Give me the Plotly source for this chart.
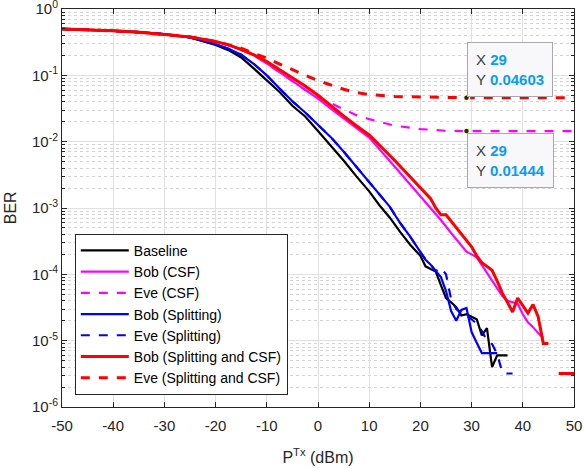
import numpy as np
import plotly.graph_objects as go

# transmit power axis (dBm), shared head of every curve
x_head = [-50, -45, -40, -35, -30, -25, -20, -17.5, -15, -12.5, -10, -7.5, -5, -2.5,
          0, 2.5, 5, 7.5, 10]

# Baseline
base_x = x_head + [12, 14, 16, 18, 20, 21, 22, 23, 24, 25, 26, 27, 28, 29, 30,
                   31, 32, 33, 34, 35, 36, 37]
base_ber = [0.501, 0.490, 0.468, 0.447, 0.417, 0.372, 0.288, 0.240, 0.186, 0.126,
            0.0851, 0.0562, 0.0347, 0.024, 0.0145, 0.0087, 0.0052, 0.003, 0.00178,
            0.0011, 7.2e-4, 4.4e-4, 2.8e-4, 1.9e-4, 1.32e-4, 1.2e-4, 1.1e-4, 6.9e-5,
            4.4e-5, 3.8e-5, 3.2e-5, 2.4e-5, 2.5e-5, 2.3e-5, 2.1e-5, 1.2e-5, 1.55e-5,
            4.0e-6, 6.0e-6, 6.0e-6, 6.0e-6]

# Bob (CSF)
bob_csf_x = x_head + [15, 20, 22, 24, 26, 28, 29, 30, 31, 32, 33, 34, 35, 36, 37,
                      38, 39, 40, 41, 42, 43, 44]
bob_csf_ber = [0.501, 0.490, 0.468, 0.447, 0.417, 0.380, 0.324, 0.288, 0.245, 0.200,
               0.151, 0.112, 0.0813, 0.0603, 0.0447, 0.0316, 0.0224, 0.0158, 0.0115,
               0.0042, 0.00151, 0.001, 6.6e-4, 4.2e-4, 2.8e-4, 2.2e-4, 2.0e-4, 1.8e-4,
               1.38e-4, 1.05e-4, 7.9e-5, 6.0e-5, 4.7e-5, 4.0e-5, 3.8e-5, 3.6e-5, 2.5e-5,
               1.9e-5, 1.6e-5, 1.3e-5, 1.1e-5]

# Eve (CSF)
eve_csf_x = x_head + [15, 20, 25, 29, 35, 40, 45, 50]
eve_csf_ber = [0.501, 0.490, 0.468, 0.447, 0.417, 0.380, 0.324, 0.288, 0.245, 0.200,
               0.151, 0.112, 0.0813, 0.0603, 0.0468, 0.038, 0.0309, 0.0251, 0.0219,
               0.0174, 0.0155, 0.0146, 0.01444, 0.01444, 0.01444, 0.01444, 0.01444]

# Bob (Splitting)
bob_spl_x = x_head + [12, 14, 15, 16, 18, 20, 21, 22, 23, 24, 25, 26, 27, 28, 29,
                      30, 31, 32, 33, 34, 35]
bob_spl_ber = [0.501, 0.490, 0.468, 0.447, 0.417, 0.372, 0.295, 0.251, 0.204, 0.148,
               0.1, 0.0631, 0.0407, 0.0275, 0.0182, 0.0117, 0.0071, 0.0042, 0.0025,
               0.00158, 0.00105, 7.9e-4, 6.0e-4, 3.7e-4, 2.2e-4, 1.66e-4, 1.4e-4,
               1.12e-4, 9.1e-5, 5.6e-5, 2.8e-5, 2.0e-5, 2.9e-5, 3.1e-5, 1.35e-5, 9.3e-6,
               6.5e-6, 6.5e-6, 6.5e-6, 6.5e-6]

# Eve (Splitting)
eve_spl_x = x_head + [12, 14, 15, 16, 18, 20, 21, 22, 23, 24, 25, 26, 27, 28, 29,
                      30, 31, 32, 33, 34, 35, 36, 37, 38]
eve_spl_ber = [0.501, 0.490, 0.468, 0.447, 0.417, 0.372, 0.295, 0.251, 0.204, 0.148,
               0.1, 0.0631, 0.0407, 0.0275, 0.0182, 0.0117, 0.0071, 0.0042, 0.0025,
               0.00158, 0.00105, 7.9e-4, 6.0e-4, 3.7e-4, 2.2e-4, 1.66e-4, 1.4e-4,
               1.12e-4, 1.26e-4, 1.0e-4, 4.2e-5, 3.0e-5, 2.6e-5, 2.4e-5, 2.1e-5, 1.8e-5,
               1.4e-5, 1.0e-5, 8.9e-6, 6.3e-6, 3.3e-6, 3.2e-6, 3.2e-6]

# Bob (Splitting and CSF)
bob_both_x = x_head + [15, 20, 22, 23, 24, 25, 26, 27, 28, 29, 30, 31, 32, 33, 34,
                       35, 36, 37, 38, 39, 40, 41, 42, 43, 44, 45, 46, 47, 48, 49, 50]
bob_both_ber = [0.501, 0.490, 0.468, 0.447, 0.417, 0.380, 0.324, 0.288, 0.245, 0.204,
                0.162, 0.123, 0.0912, 0.0692, 0.0501, 0.0347, 0.0245, 0.0174, 0.0126,
                0.0052, 0.002, 0.00138, 0.001, 7.9e-4, 7.9e-4, 6.3e-4, 5.2e-4, 4.0e-4,
                3.3e-4, 2.6e-4, 1.9e-4, 1.5e-4, 1.32e-4, 1.15e-4, 7.9e-5, 5.2e-5, 3.8e-5,
                2.7e-5, 4.4e-5, 3.3e-5, 2.6e-5, 3.5e-5, 2.3e-5, 9.1e-6, 9.1e-6, None,
                3.2e-6, 3.2e-6, 3.2e-6, 3.2e-6]

# Eve (Splitting and CSF)
eve_both_x = x_head + [15, 20, 25, 29, 35, 40, 45, 50]
eve_both_ber = [0.501, 0.490, 0.468, 0.447, 0.417, 0.380, 0.324, 0.288, 0.257, 0.214,
                0.182, 0.148, 0.120, 0.1, 0.0832, 0.0708, 0.0617, 0.055, 0.0513,
                0.0479, 0.0468, 0.0462, 0.04603, 0.04603, 0.04603, 0.04603, 0.04603]

# data tips
tip_x = [29, 29]
tip_y = [0.04603, 0.01444]
tip_text = ["0.04603", "0.01444"]

# ticks
x_tickvals = [-50, -40, -30, -20, -10, 0, 10, 20, 30, 40, 50]
x_ticktext = ["-50", "-40", "-30", "-20", "-10", "0", "10", "20", "30", "40", "50"]
y_tickvals = [1e-6, 1e-5, 1e-4, 1e-3, 1e-2, 1e-1, 1]
y_ticktext = ["10<sup>-6</sup>", "10<sup>-5</sup>", "10<sup>-4</sup>", "10<sup>-3</sup>",
              "10<sup>-2</sup>", "10<sup>-1</sup>", "10<sup>0</sup>"]

series = [
    ("Baseline", base_x, base_ber, "black", "solid", 2.2),
    ("Bob (CSF)", bob_csf_x, bob_csf_ber, "#ff00ff", "solid", 2.2),
    ("Eve (CSF)", eve_csf_x, eve_csf_ber, "#ff00ff", "dash", 2.2),
    ("Bob (Splitting)", bob_spl_x, bob_spl_ber, "#0000ff", "solid", 2.2),
    ("Eve (Splitting)", eve_spl_x, eve_spl_ber, "#0000ff", "dash", 2.2),
    ("Bob (Splitting and CSF)", bob_both_x, bob_both_ber, "#ff0000", "solid", 3),
    ("Eve (Splitting and CSF)", eve_both_x, eve_both_ber, "#ff0000", "dash", 3),
]

fig = go.Figure()
for name, xs, ys, color, dash, width in series:
    fig.add_trace(go.Scatter(
        x=xs, y=ys, name=name, mode="lines",
        line=dict(color=color, dash=dash, width=width),
        connectgaps=False,
    ))

fig.add_trace(go.Scatter(
    x=tip_x, y=tip_y, mode="markers", showlegend=False,
    marker=dict(color="#262626", size=6, line=dict(color="#ffffc0", width=1.5)),
))

for tx, ty, tt, anchor in zip(tip_x, tip_y, tip_text, ["bottom", "top"]):
    fig.add_annotation(
        x=tx, y=np.log10(ty), xref="x", yref="y",
        xanchor="left", yanchor=anchor, showarrow=False,
        xshift=1, yshift=1 if anchor == "bottom" else -2,
        align="left",
        text=(f"X <span style='color:#0a9bf5'><b>{tx}</b></span><br>"
              f"Y <span style='color:#0a9bf5'><b>{tt}</b></span>"),
        font=dict(size=15, color="#404040"),
        bgcolor="#f8f8fb", bordercolor="#a8a8a8", borderwidth=1, borderpad=8,
    )

# y axis title as a rotated label, placed like the original
fig.add_annotation(
    text="BER", xref="paper", yref="paper", x=-0.101, y=0.5,
    textangle=-90, showarrow=False, xanchor="center", yanchor="middle",
    font=dict(size=16, color="#262626"),
)

axis_font = dict(family="Liberation Sans, Arial, sans-serif", size=15, color="#262626")

fig.update_xaxes(
    range=[-50, 50], tickvals=x_tickvals, ticktext=x_ticktext, automargin=False,
    showgrid=True, gridcolor="#e0e0e0", gridwidth=1, zeroline=False,
    ticks="inside", ticklen=5, tickcolor="#262626", ticklabelstandoff=5,
    showline=True, linecolor="#262626", linewidth=1, mirror="ticks",
    tickfont=axis_font, ticklabeloverflow="allow",
    title=dict(text="P<sup>Tx</sup> (dBm)", font=dict(size=16), standoff=18),
)
fig.update_yaxes(
    type="log", range=[-6, 0], tickvals=y_tickvals, ticktext=y_ticktext,
    automargin=False, ticklabeloverflow="allow",
    showgrid=True, gridcolor="#e0e0e0", gridwidth=1, zeroline=False,
    ticks="inside", ticklen=5, tickcolor="#262626",
    showline=True, linecolor="#262626", linewidth=1, mirror="ticks",
    minor=dict(dtick="D1", ticks="inside", ticklen=3, tickcolor="#262626",
               showgrid=True, gridcolor="#d4d4d4", griddash="dot"),
    tickfont=axis_font,
)

fig.update_layout(
    width=584, height=468,
    margin=dict(l=62, r=10, t=9, b=61),
    paper_bgcolor="white", plot_bgcolor="white",
    font=dict(family="Liberation Sans, Arial, sans-serif", color="#262626"),
    legend=dict(
        x=0.025, y=0.435, xanchor="left", yanchor="top",
        bgcolor="white", bordercolor="#262626", borderwidth=1,
        font=dict(size=14, color="black"), tracegroupgap=0, itemwidth=48,
    ),
)

fig.write_html("out.html", config={"displayModeBar": False},
               post_script="document.body.style.margin='0';")
